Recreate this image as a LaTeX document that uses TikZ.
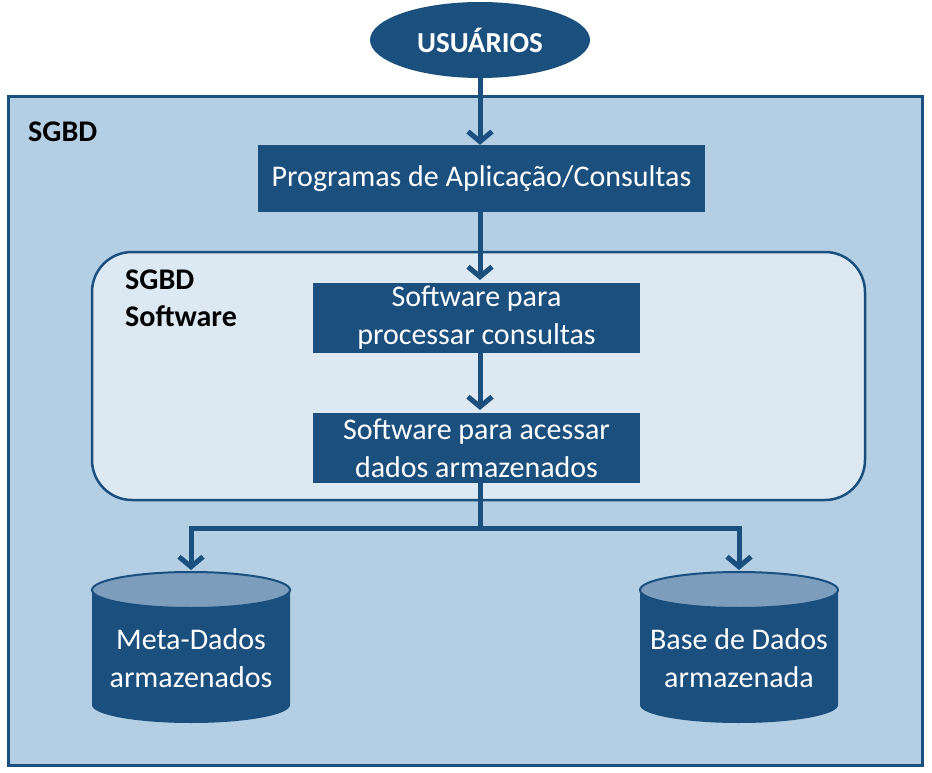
\documentclass[tikz,border=0pt]{standalone}
\usepackage{fontspec}
\setmainfont{Carlito}
\usetikzlibrary{arrows.meta}
\definecolor{dk}{HTML}{1B4F7E}
\definecolor{outerf}{HTML}{B4CFE4}
\definecolor{innerf}{HTML}{DCE8F2}
\definecolor{cyltop}{HTML}{7C9DBC}
\begin{document}
\begin{tikzpicture}[x=1pt,y=-1pt,
  boxn/.style={fill=dk,text=white,inner sep=0pt,align=center,font=\fontsize{30}{38}\selectfont},
  conn/.style={draw=dk,line width=5pt,-{Straight Barb[length=10pt,width=24pt,line width=5pt]}},
  lbl/.style={font=\bfseries\fontsize{30}{37}\selectfont,align=left,anchor=north west,inner sep=0pt}]
\useasboundingbox (0,0) rectangle (932,773);
\fill[white] (0,0) rectangle (932,773);
\draw[draw=dk,fill=outerf,line width=3pt] (8,97) rectangle (922,765);
\node[lbl] (sgbd) at (28,122) {SGBD};
\fill[dk] (480,40) ellipse (110 and 38);
\node[font=\bfseries\fontsize{29}{35}\selectfont,text=white] (usu) at (480,40) {USUÁRIOS};
\coordinate (usub) at (480,78);
\node[boxn,minimum width=447pt,minimum height=67pt] (prog) at (481.5,178.5) {Programas de Aplicação/Consultas};
\draw[draw=dk,fill=innerf,line width=2.5pt,rounded corners=40pt] (92,252) rectangle (865,500);
\node[lbl] (sgbds) at (125,270) {SGBD\\Software};
\node[boxn,minimum width=327pt,minimum height=70pt] (proc) at (476.5,318) {Software para\\processar consultas};
\node[boxn,minimum width=327pt,minimum height=70pt] (aces) at (476.5,448) {Software para acessar\\dados armazenados};
\draw[conn] (usub) -- (prog.north -| usub);
\draw[conn] (prog.south -| usub) -- (480,280);
\draw[conn] (proc.south -| usub) -- (480,410);
% cylinders
\foreach \cx in {191,739}{
  \fill[dk] (\cx-99,590) -- (\cx-99,705) arc[start angle=180,end angle=0,x radius=99,y radius=18] -- (\cx+99,590) -- cycle;
  \draw[draw=dk,fill=cyltop,line width=2pt] (\cx,590) ellipse (99 and 18);
}
\node[boxn,fill=none] (meta) at (191,658) {Meta-Dados\\armazenados};
\node[boxn,fill=none] (base) at (739,658) {Base de Dados\\armazenada};
\coordinate (br) at (480,528);
\draw[draw=dk,line width=5pt] (aces.south -| br) -- (br);
\draw[conn] (br) -| (191,570);
\draw[conn] (br) -| (739,570);
\end{tikzpicture}
\end{document}
